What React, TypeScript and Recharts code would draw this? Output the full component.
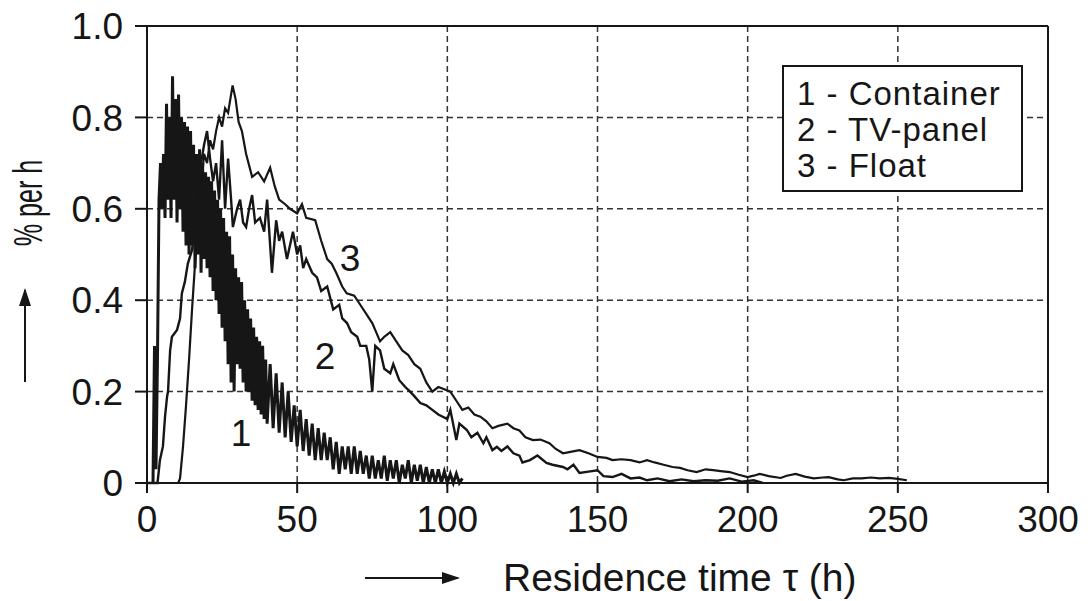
import { LineChart, Line, XAxis, YAxis, CartesianGrid, ReferenceLine } from "recharts";

// Curve 1 - Container: dense zig-zag band, 0.5 h steps to 40 h, then 1 h steps
const containerStartA = 2;
const containerValuesA = [
  0, 0.3, 0.03, 0.28, 0.62, 0.7, 0.6, 0.72, 0.58, 0.83, 0.62, 0.8, 0.58, 0.89, 0.62, 0.84,
  0.57, 0.85, 0.6, 0.8, 0.55, 0.79, 0.52, 0.78, 0.5, 0.77, 0.52, 0.74, 0.47, 0.72, 0.5, 0.73,
  0.46, 0.7, 0.49, 0.68, 0.47, 0.67, 0.45, 0.66, 0.42, 0.64, 0.4, 0.62, 0.37, 0.6, 0.34, 0.58,
  0.31, 0.55, 0.26, 0.54, 0.22, 0.5, 0.2, 0.47, 0.26, 0.45, 0.25, 0.44, 0.22, 0.4, 0.2, 0.38,
  0.2, 0.36, 0.18, 0.34, 0.17, 0.32, 0.16, 0.31, 0.15, 0.3, 0.14, 0.27, 0.13,
];
const containerStartB = 41;
const containerValuesB = [
  0.26, 0.12, 0.24, 0.11, 0.22, 0.1, 0.2, 0.09, 0.17, 0.08, 0.16, 0.07, 0.14, 0.06, 0.13, 0.05,
  0.12, 0.05, 0.11, 0.05, 0.1, 0.03, 0.09, 0.02, 0.08, 0.03, 0.08, 0.02, 0.08, 0.02, 0.07, 0.02,
  0.06, 0.01, 0.06, 0.01, 0.05, 0.01, 0.06, 0.005, 0.05, 0.01, 0.05, 0, 0.04, 0.01, 0.05, 0,
  0.04, 0.005, 0.04, 0, 0.035, 0, 0.03, 0, 0.03, 0, 0.025, 0, 0.02, 0, 0.02, 0, 0.01,
];

// Curve 2 - TV-panel
const tvTimes = [
  0, 3.5, 4.3, 5.3, 6, 6.7, 7, 7.7, 8.3, 10, 11, 11.6, 12.6, 13.6, 15, 16, 17, 18, 19, 20, 21, 22,
  23, 24, 25, 26, 27, 28, 28.6, 30, 31, 32, 33, 34, 35, 36, 37.6, 39, 40, 41, 41.6, 43, 44, 45,
  46.6, 48.6, 50, 51, 52, 53, 55, 56.6, 58, 60, 62, 64, 65, 66.6, 68, 70, 71, 73, 74, 75, 76,
  77.6, 79, 81, 82, 84, 86, 87.6, 89, 91, 93, 95, 97, 100, 101, 103, 104, 106.5, 108, 110, 112,
  113, 115, 116.5, 118, 120, 122, 124, 125, 127.5, 130, 133, 135, 138.5, 140, 142, 144, 147,
  150, 152, 155, 158, 161, 164, 166.5, 170, 174, 178, 182, 186, 190, 194, 198, 202, 205,
];
const tvValues = [
  0, 0, 0.05, 0.08, 0.145, 0.19, 0.2, 0.29, 0.32, 0.335, 0.36, 0.415, 0.44, 0.48, 0.51, 0.57,
  0.63, 0.7, 0.74, 0.77, 0.71, 0.66, 0.7, 0.62, 0.75, 0.6, 0.71, 0.62, 0.56, 0.6, 0.62, 0.57,
  0.56, 0.6, 0.63, 0.57, 0.58, 0.55, 0.62, 0.52, 0.46, 0.575, 0.53, 0.55, 0.49, 0.55, 0.5, 0.52,
  0.47, 0.49, 0.46, 0.45, 0.42, 0.43, 0.38, 0.39, 0.36, 0.35, 0.33, 0.32, 0.3, 0.3, 0.27, 0.2,
  0.3, 0.29, 0.25, 0.24, 0.26, 0.225, 0.21, 0.2, 0.19, 0.175, 0.17, 0.16, 0.15, 0.14, 0.16,
  0.094, 0.13, 0.116, 0.1, 0.11, 0.087, 0.1, 0.072, 0.079, 0.07, 0.08, 0.065, 0.06, 0.045, 0.05,
  0.06, 0.044, 0.04, 0.035, 0.03, 0.04, 0.022, 0.025, 0.028, 0.015, 0.013, 0.02, 0.01, 0.012,
  0.006, 0.01, 0.004, 0.008, 0.004, 0.006, 0.005, 0.01, 0.003, 0.006, 0,
];

// Curve 3 - Float
const floatTimes = [
  0, 10.4, 11, 12, 13, 14, 15, 16, 17, 18, 19, 20, 21, 22, 23, 24, 25, 26, 27, 28.5, 29.5, 30.5,
  31.6, 33, 35, 37, 39, 41, 42.5, 44, 46, 47.6, 50, 51.6, 53, 56, 58, 60, 61.5, 63, 65, 66.5, 69,
  71, 73, 75, 77.6, 79, 81, 83, 85, 87, 89, 91, 93, 95, 97, 99, 101, 103, 105, 107, 109, 111,
  113, 115, 117, 120, 122, 124, 126, 128.5, 131, 134, 136, 138.5, 141, 144, 147, 150, 153, 155,
  158, 161, 164, 166.5, 169, 172, 175, 177.5, 180, 183, 186, 188.5, 191, 194, 197, 200, 202,
  204, 207, 211, 213, 216, 219, 222, 225, 227, 230, 232, 235, 238, 241, 244, 247, 250, 253,
];
const floatValues = [
  0, 0, 0.01, 0.08, 0.17, 0.27, 0.38, 0.48, 0.56, 0.64, 0.72, 0.7, 0.75, 0.73, 0.77, 0.8, 0.78,
  0.82, 0.81, 0.87, 0.84, 0.79, 0.77, 0.72, 0.67, 0.68, 0.66, 0.69, 0.65, 0.62, 0.61, 0.6, 0.59,
  0.61, 0.58, 0.575, 0.53, 0.49, 0.48, 0.46, 0.43, 0.415, 0.41, 0.39, 0.37, 0.35, 0.31, 0.32,
  0.33, 0.31, 0.29, 0.28, 0.26, 0.25, 0.22, 0.2, 0.21, 0.205, 0.2, 0.18, 0.16, 0.165, 0.15,
  0.145, 0.135, 0.12, 0.125, 0.13, 0.12, 0.115, 0.1, 0.094, 0.095, 0.087, 0.075, 0.065, 0.068,
  0.072, 0.065, 0.057, 0.055, 0.05, 0.052, 0.05, 0.045, 0.05, 0.045, 0.04, 0.035, 0.033, 0.028,
  0.024, 0.03, 0.028, 0.026, 0.024, 0.018, 0.013, 0.016, 0.02, 0.015, 0.011, 0.016, 0.02, 0.014,
  0.01, 0.012, 0.013, 0.008, 0.006, 0.01, 0.01, 0.012, 0.01, 0.011, 0.009, 0.006,
];

const xTicks = [0, 50, 100, 150, 200, 250, 300];
const yTicks = [0, 0.2, 0.4, 0.6, 0.8, 1.0];
const legendLines = ["1 - Container", "2 - TV-panel", "3 - Float"];

const FONT = "'Liberation Sans', Arial, sans-serif";
const INK = "#161616";

const containerData = [
  ...containerValuesA.map((v, i) => ({ t: containerStartA + i * 0.5, v })),
  ...containerValuesB.map((v, i) => ({ t: containerStartB + i, v })),
];
const tvData = tvTimes.map((t, i) => ({ t, v: tvValues[i] }));
const floatData = floatTimes.map((t, i) => ({ t, v: floatValues[i] }));

export default function App() {
  return (
    <div style={{ position: "absolute", left: 0, top: 0, width: 1091, height: 601, background: "#fff" }}>
      <LineChart width={1091} height={601} margin={{ top: 26, right: 43, left: 0, bottom: 0 }}>
        <CartesianGrid stroke="#333" strokeWidth={1.5} strokeDasharray="6 4" />
        <XAxis
          type="number"
          dataKey="t"
          domain={[0, 300]}
          ticks={xTicks}
          height={118}
          tickSize={10}
          tickMargin={13}
          stroke={INK}
          strokeWidth={2}
          tick={{ fontSize: 37, fill: INK, fontFamily: FONT }}
        />
        <YAxis
          type="number"
          domain={[0, 1]}
          ticks={yTicks}
          width={147}
          tickSize={12}
          tickMargin={12}
          stroke={INK}
          strokeWidth={2}
          tick={{ fontSize: 37, fill: INK, fontFamily: FONT }}
          tickFormatter={(v: number) => (v === 0 ? "0" : v.toFixed(1))}
        />
        <ReferenceLine y={1} stroke={INK} strokeWidth={2} />
        <ReferenceLine x={300} stroke={INK} strokeWidth={2} />
        <Line data={containerData} dataKey="v" type="linear" stroke={INK} strokeWidth={3} dot={false} activeDot={false} isAnimationActive={false} />
        <Line data={tvData} dataKey="v" type="linear" stroke={INK} strokeWidth={2.4} dot={false} activeDot={false} isAnimationActive={false} />
        <Line data={floatData} dataKey="v" type="linear" stroke={INK} strokeWidth={2.2} dot={false} activeDot={false} isAnimationActive={false} />
      </LineChart>

      <svg width={1091} height={601} style={{ position: "absolute", left: 0, top: 0, pointerEvents: "none" }}>
        <defs>
          <marker id="ah" markerWidth="18" markerHeight="14" refX="16" refY="7" orient="auto" markerUnits="userSpaceOnUse">
            <path d="M0,1 L18,7 L0,13 z" fill={INK} />
          </marker>
        </defs>
        <g fontFamily={FONT} fill={INK} fontSize={37}>
          <text x={241} y={446} textAnchor="middle">1</text>
          <text x={325} y={369} textAnchor="middle">2</text>
          <text x={350} y={271} textAnchor="middle">3</text>
          <text x={503} y={591} fontSize={39}>Residence time τ (h)</text>
          <text transform="translate(42,203) rotate(-90) scale(0.74,1.18)" textAnchor="middle" fontSize={34}>% per h</text>
        </g>
        <line x1={365} y1={578} x2={458} y2={578} stroke={INK} strokeWidth={2} markerEnd="url(#ah)" />
        <line x1={25} y1={382} x2={25} y2={290} stroke={INK} strokeWidth={2} markerEnd="url(#ah)" />
      </svg>

      <div
        style={{
          position: "absolute",
          left: 782,
          top: 65,
          width: 241,
          height: 127,
          border: `2px solid ${INK}`,
          background: "#fff",
          fontFamily: FONT,
          fontSize: 33,
          lineHeight: "36px",
          letterSpacing: "1px",
          color: INK,
          padding: "9px 0 0 13px",
          boxSizing: "border-box",
          whiteSpace: "nowrap",
        }}
      >
        {legendLines.map((s) => (
          <div key={s}>{s}</div>
        ))}
      </div>
    </div>
  );
}
